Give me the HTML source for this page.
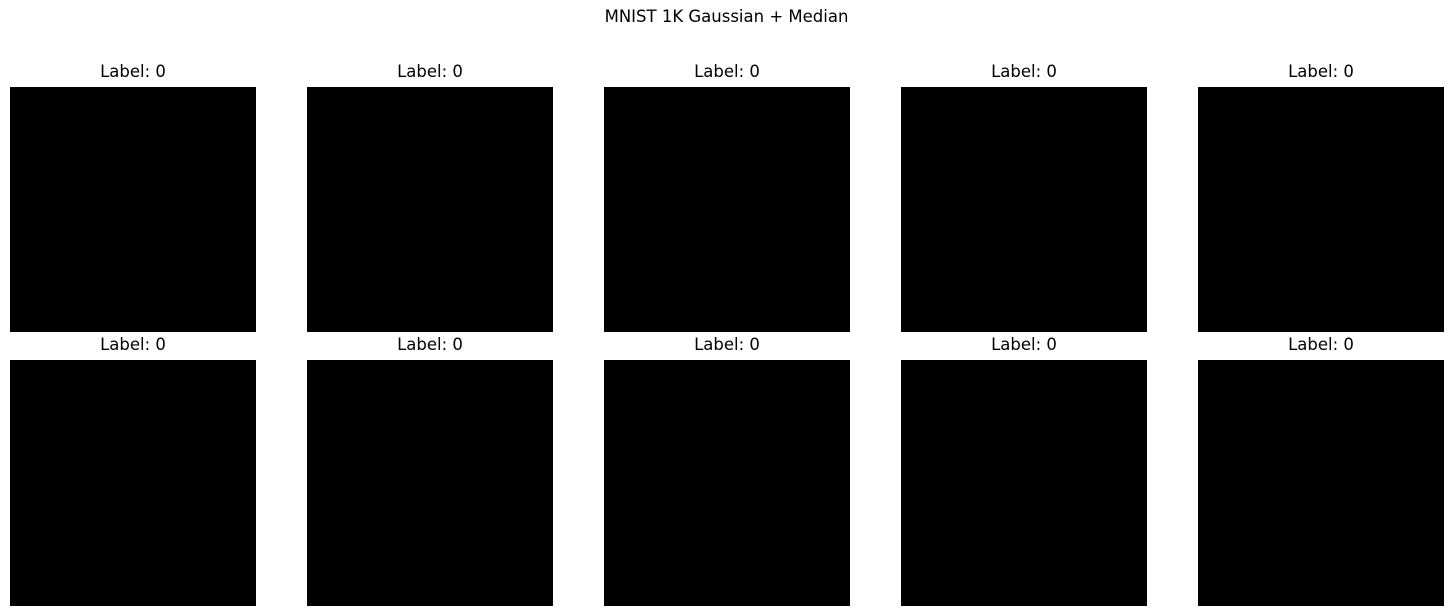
<!DOCTYPE html>
<html><head><meta charset="utf-8"><style>
body{margin:0;background:#fff;width:1453px;height:616px;overflow:hidden;position:relative;font-family:"DejaVu Sans","Liberation Sans",sans-serif;}
.t{position:absolute;font-size:16.5px;color:#000;text-align:center;white-space:nowrap}
.img{position:absolute;background:#000;width:246px;height:245px}
</style></head><body>
<div class="t" style="left:0;width:1453px;top:7px;">MNIST 1K Gaussian + Median</div>
<div id="grid"></div>
<script>
const labels=[0,0,0,0,0,0,0,0,0,0];
const g=document.getElementById('grid');
labels.forEach((lab,i)=>{
  const c=i%5,r=Math.floor(i/5);
  const x=10+c*297,y=r?360:87;
  const im=document.createElement('div');
  im.className='img';
  im.style.left=x+'px';im.style.top=y+'px';
  if(r)im.style.height='246px';
  
  
  g.appendChild(im);
  const t=document.createElement('div');
  t.className='t';
  t.style.left=x+'px';t.style.width='246px';t.style.top=(y-25)+'px';
  t.textContent='Label: '+lab;
  
  
  g.appendChild(t);
});
</script>
</body></html>
